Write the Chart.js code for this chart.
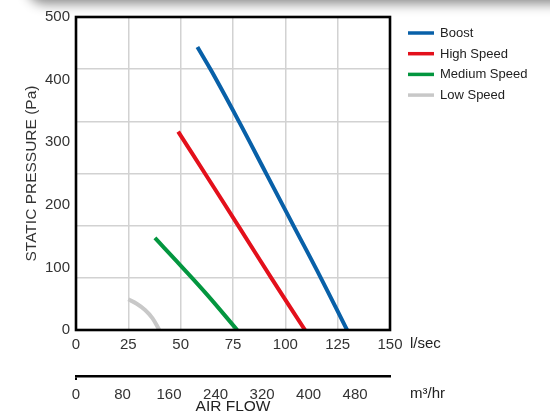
<!DOCTYPE html>
<html>
<head>
<meta charset="utf-8">
<script src="https://cdn.jsdelivr.net/npm/chart.js@4/dist/chart.umd.min.js"></script>
<style>
  html, body { margin: 0; padding: 0; background: #fff; overflow: hidden; }
  #wrap { position: relative; width: 550px; height: 412px; overflow: hidden; }
  #shade { position: absolute; left: 30px; right: -40px; top: -30px; height: 30px;
           border-radius: 24px; background: #999; box-shadow: 0 1px 12px 3px rgba(0,0,0,0.45); }
  canvas { position: absolute; left: 0; top: 0; }
</style>
</head>
<body>
<div id="wrap">
  <div id="shade"></div>
  <canvas id="c" width="550" height="412"></canvas>
</div>
<script>
// ---- data (air flow in l/sec, static pressure in Pa) ----
const seriesNames = ["Boost", "High Speed", "Medium Speed", "Low Speed"];
const boostFlow = [58, 65, 78, 91, 104, 117, 129.5];
const boostPressure = [452, 412, 332, 249, 166, 83, 0];
const highFlow = [48.8, 62, 78, 93.5, 109.4];
const highPressure = [317, 248, 164, 82, 0];
const mediumFlow = [37.7, 50, 62.5, 77];
const mediumPressure = [147, 103, 57, 0];
const lowFlow = [25, 29, 33, 36.5, 39.8];
const lowPressure = [49, 42, 32, 19, 0];
const flowTicksLs = [0, 25, 50, 75, 100, 125, 150];
const flowTicksM3 = [0, 80, 160, 240, 320, 400, 480];
const pressureTicks = [0, 100, 200, 300, 400, 500];

const colors = ["#0860a8", "#e3101b", "#03963f", "#c8c8c8"];
const FONT = "'Liberation Sans', Arial, Helvetica, sans-serif";

function pts(xs, ys) { return xs.map((x, i) => ({ x: x, y: ys[i] })); }
const seriesData = [pts(boostFlow, boostPressure), pts(highFlow, highPressure),
                    pts(mediumFlow, mediumPressure), pts(lowFlow, lowPressure)];

const extras = {
  id: "extras",
  afterDatasetsDraw(chart) {
    const { ctx, chartArea: a, scales } = chart;
    ctx.save();
    // plot frame
    ctx.strokeStyle = "#000";
    ctx.lineWidth = 2.6;
    ctx.strokeRect(a.left, a.top, a.right - a.left, a.bottom - a.top);
    // units
    ctx.fillStyle = "#222";
    ctx.font = "15px " + FONT;
    ctx.textAlign = "left";
    ctx.textBaseline = "middle";
    ctx.fillText("l/sec", a.right + 20, scales.x.top + 14);
    ctx.fillText("m³/hr", a.right + 20, scales.x2.top + 18);
    // legend
    ctx.font = "13px " + FONT;
    chart.data.datasets.forEach((ds, i) => {
      const y = a.top + 16 + i * 20.7;
      ctx.strokeStyle = ds.borderColor;
      ctx.lineWidth = 3.5;
      ctx.beginPath();
      ctx.moveTo(a.right + 18, y);
      ctx.lineTo(a.right + 44, y);
      ctx.stroke();
      ctx.fillStyle = "#222";
      ctx.fillText(ds.label, a.right + 50, y + 0.5);
    });
    ctx.restore();
  }
};

new Chart(document.getElementById("c"), {
  type: "line",
  data: {
    datasets: seriesNames.map((n, i) => ({
      label: n,
      data: seriesData[i],
      borderColor: colors[i],
      backgroundColor: colors[i],
      borderWidth: 4,
      pointRadius: 0,
      tension: 0.4,
      fill: false,
      xAxisID: "x",
      yAxisID: "y"
    }))
  },
  options: {
    responsive: false,
    devicePixelRatio: 1,
    animation: false,
    events: [],
    layout: { padding: { left: 0, right: 160, top: 17, bottom: 0 } },
    plugins: { legend: { display: false }, tooltip: { enabled: false } },
    scales: {
      x: {
        type: "linear", position: "bottom", weight: 0, min: 0, max: 150,
        afterBuildTicks: s => { s.ticks = flowTicksLs.map(v => ({ value: v })); },
        ticks: { font: { size: 15, family: FONT }, color: "#333", padding: 6, maxRotation: 0 },
        grid: { color: "#d2d2d2", lineWidth: 1.5, drawTicks: false },
        border: { display: false },
        afterFit: s => { s.height = 46; }
      },
      x2: {
        type: "linear", position: "bottom", weight: 1, min: 0, max: 540,
        afterBuildTicks: s => { s.ticks = flowTicksM3.map(v => ({ value: v })); },
        ticks: { font: { size: 15, family: FONT }, color: "#333", padding: 6, maxRotation: 0 },
        grid: { drawOnChartArea: false, drawTicks: true, tickLength: 4, lineWidth: 2,
                color: c => (c.tick && c.tick.value === 0) ? "#000" : "rgba(0,0,0,0)" },
        border: { display: true, color: "#000", width: 2.6 },
        title: { display: true, text: "AIR FLOW", font: { size: 15.5, family: FONT }, color: "#222",
                 padding: { top: 0, bottom: -4 } },
        afterFit: s => { s.height = 36; }
      },
      y: {
        type: "linear", position: "left", min: 0, max: 500,
        afterBuildTicks: s => { s.ticks = pressureTicks.map(v => ({ value: v })); },
        ticks: { font: { size: 15, family: FONT }, color: "#333", padding: 6 },
        grid: { display: false, drawTicks: false },
        border: { display: false },
        title: { display: true, text: "STATIC PRESSURE (Pa)", font: { size: 15.5, family: FONT }, color: "#333",
                 padding: { top: 22, bottom: 0 } },
        afterFit: s => { s.width = 76; }
      },
      yGrid: {
        type: "linear", position: "right", min: 0, max: 500,
        afterBuildTicks: s => { s.ticks = [0, 1, 2, 3, 4, 5, 6].map(i => ({ value: s.min + i * (s.max - s.min) / 6 })); },
        ticks: { display: false },
        grid: { color: "#d2d2d2", lineWidth: 1.5, drawTicks: false },
        border: { display: false },
        afterFit: s => { s.width = 0; }
      }
    }
  },
  plugins: [extras]
});
</script>
</body>
</html>
